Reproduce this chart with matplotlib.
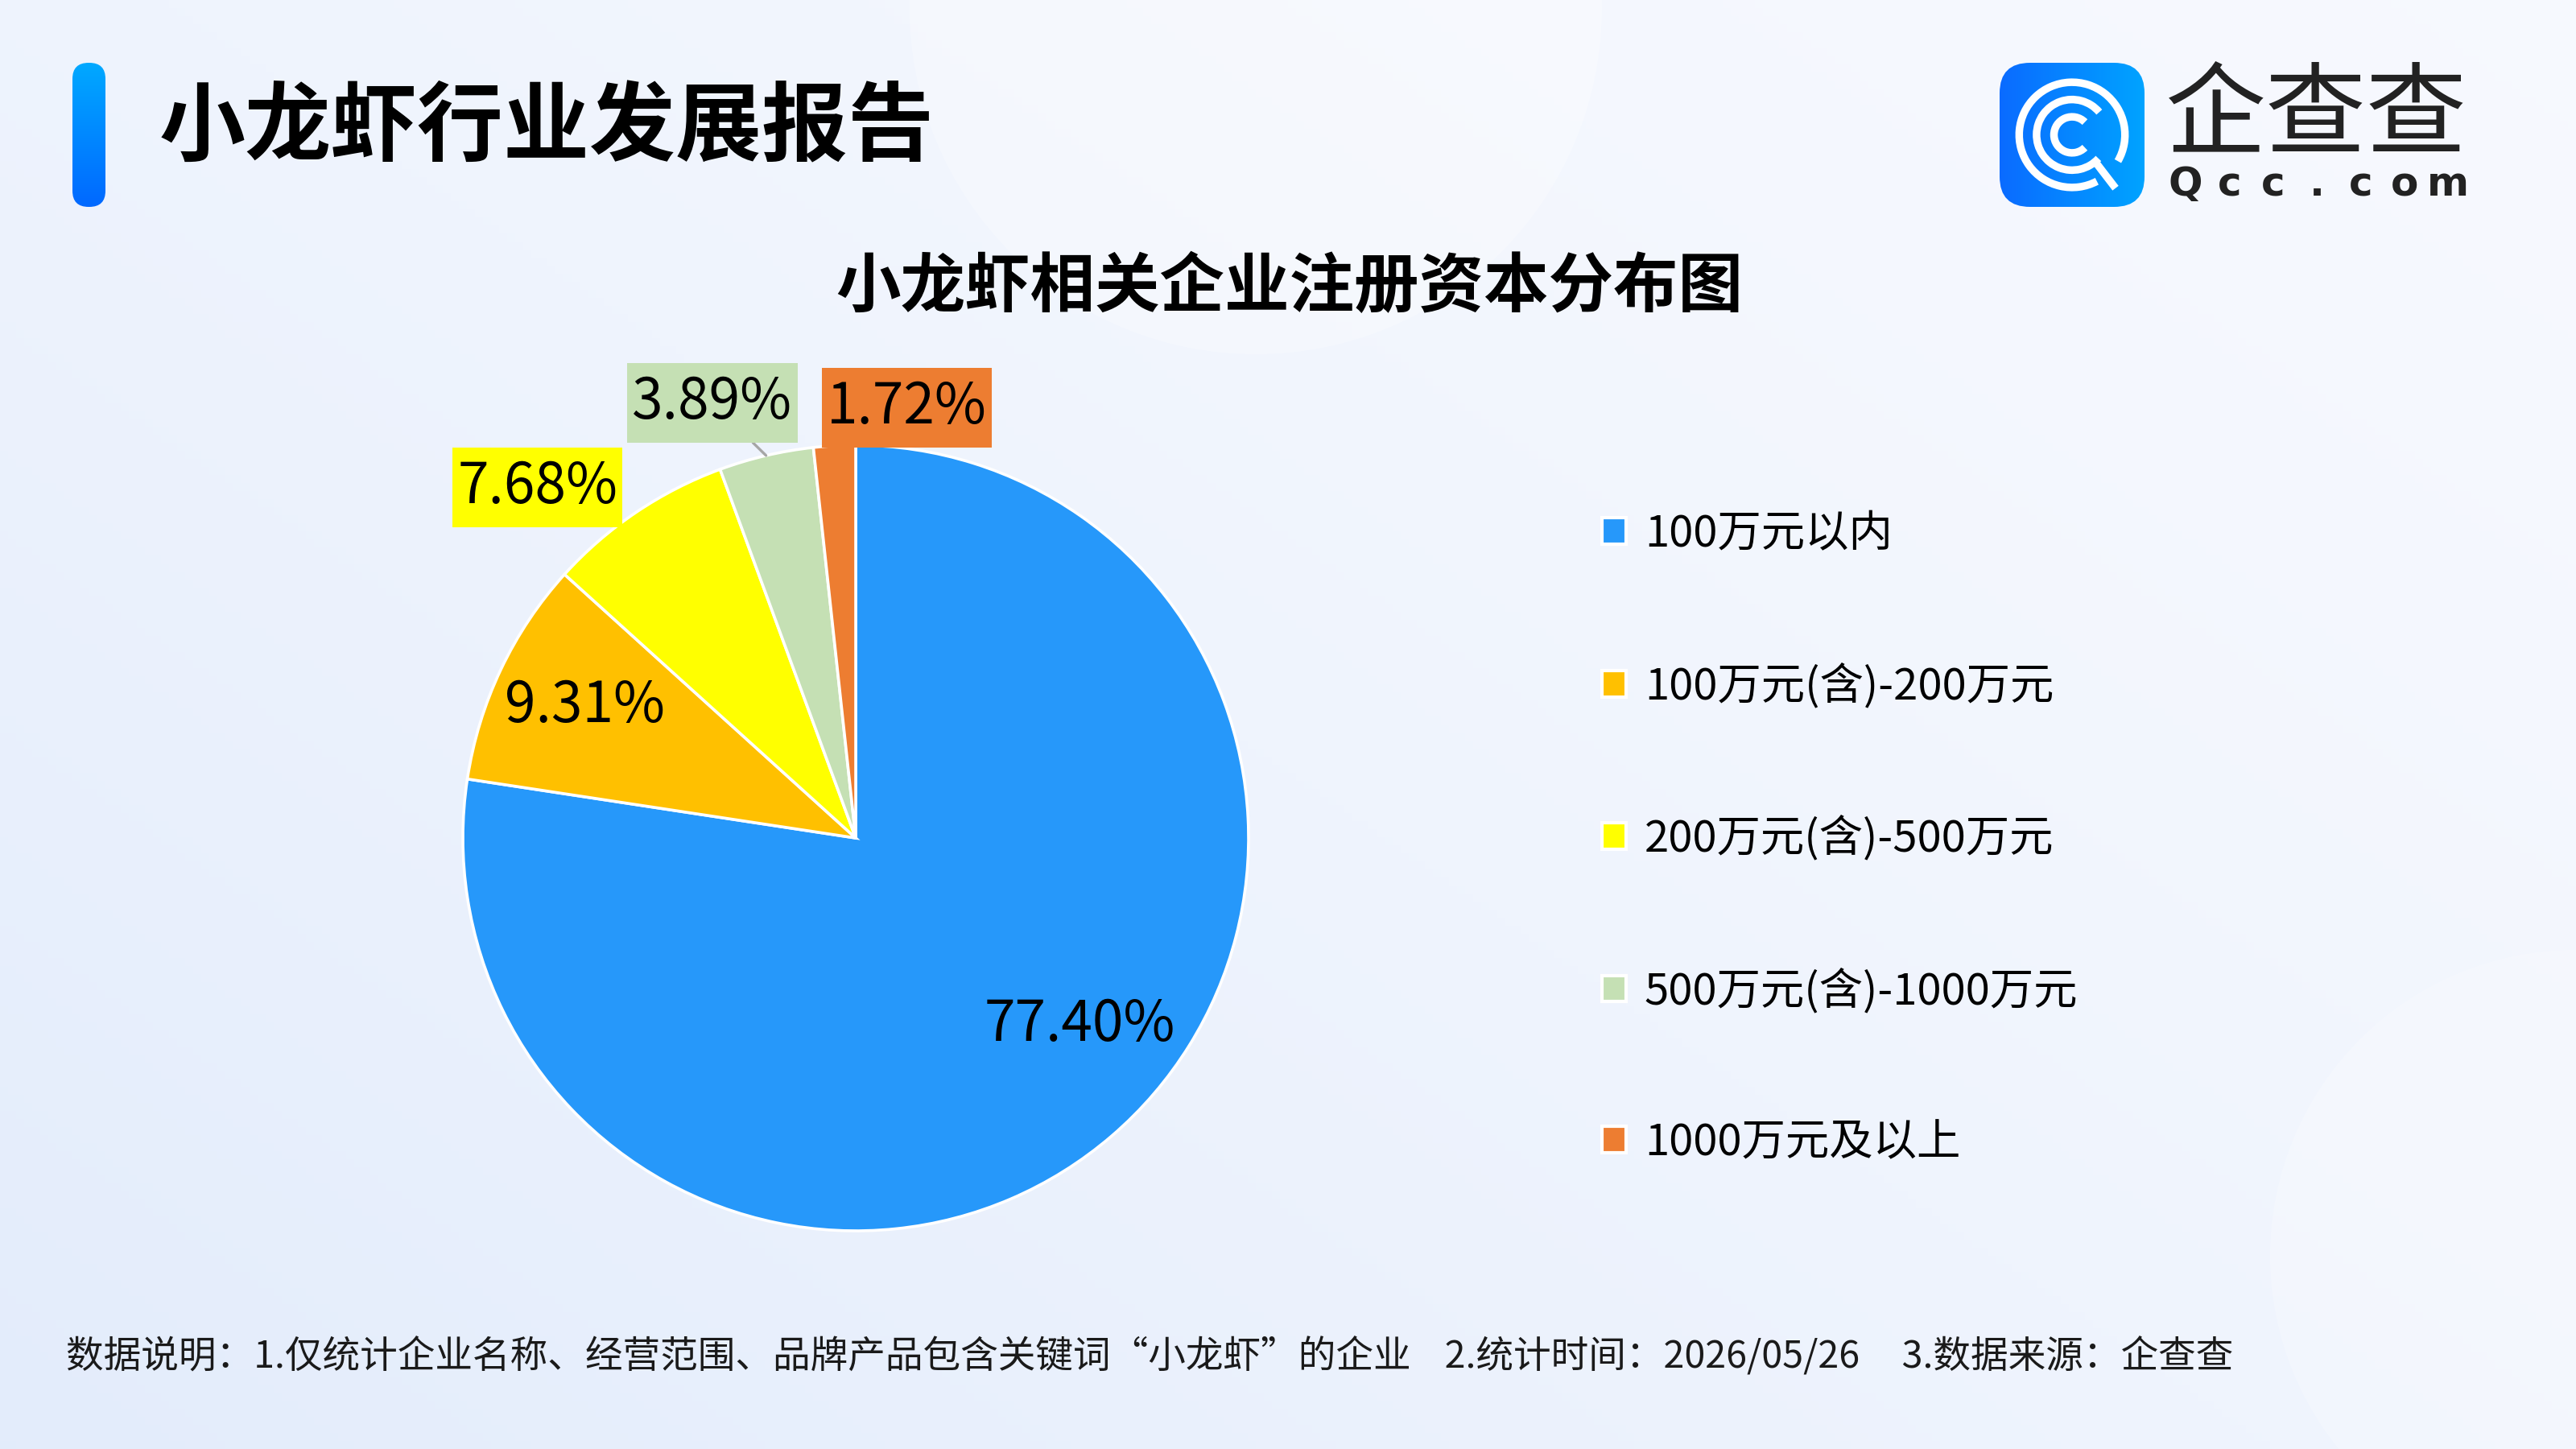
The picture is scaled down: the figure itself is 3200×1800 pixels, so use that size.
import numpy as np
import matplotlib.pyplot as plt
from matplotlib.patches import FancyBboxPatch, Patch, Arc, Circle
from matplotlib.path import Path

plt.rcParams['font.family'] = ['Noto Sans CJK SC', 'DejaVu Sans']

# Data
categories = ['100万元以内', '100万元(含)-200万元', '200万元(含)-500万元',
              '500万元(含)-1000万元', '1000万元及以上']
shares = [77.40, 9.31, 7.68, 3.89, 1.72]
colors = ['#2698fa', '#ffc000', '#ffff00', '#c5e0b4', '#ed7d31']

# label centres in pie-radius units, and which labels get a coloured box
label_pos = [(0.57, -0.475), (-0.69, 0.335), (-0.81, 0.893), (-0.365, 1.108), (0.13, 1.095)]
boxed = [False, False, True, True, True]

page_title = '小龙虾行业发展报告'
chart_title = '小龙虾相关企业注册资本分布图'
footnote = ('数据说明：1.仅统计企业名称、经营范围、品牌产品包含关键词“小龙虾”的企业    '
            '2.统计时间：2026/05/26     3.数据来源：企查查')

W, H = 3200, 1800
fig = plt.figure(figsize=(16, 9), dpi=200)

# background in pixel coordinates
bg = fig.add_axes([0, 0, 1, 1])
bg.set_xlim(0, W)
bg.set_ylim(H, 0)
bg.axis('off')

xx, yy = np.meshgrid(np.linspace(0, 1, 320), np.linspace(0, 1, 180))
w = np.clip(0.55 * (1 - xx) + 0.45 * yy, 0, 1) ** 1.4
light = np.array([0.968, 0.977, 0.998])
blue = np.array([0.890, 0.926, 0.986])
img = light[None, None, :] * (1 - w[..., None]) + blue[None, None, :] * w[..., None]
bg.imshow(img, extent=(0, W, H, 0), aspect='auto', zorder=0)
bg.add_patch(Circle((1560, 10), 430, color='white', alpha=0.28, lw=0, zorder=1))
bg.add_patch(Circle((3200, 1560), 380, color='white', alpha=0.22, lw=0, zorder=1))

# left accent bar
bar = FancyBboxPatch((90, 78), 41, 179, boxstyle='round,pad=0,rounding_size=20',
                     fc='none', ec='none', zorder=2)
bg.add_patch(bar)
grad_v = np.linspace(0, 1, 100)[:, None]
bar_img = np.dstack([0 * grad_v, 0.66 - 0.25 * grad_v, 1 + 0 * grad_v])
im = bg.imshow(bar_img, extent=(90, 131, 257, 78), aspect='auto', zorder=2)
im.set_clip_path(bar)

bg.text(198, 160, page_title, fontsize=38.5, fontweight='bold', color='black',
        ha='left', va='center', zorder=3)
bg.text(1602, 357, chart_title, fontsize=29, fontweight='bold', color='black',
        ha='center', va='center', zorder=3)
bg.text(82, 1686, footnote, fontsize=16.8, color='#1a1a1a', ha='left', va='center', zorder=3)

# logo
lg = fig.add_axes([2484 / W, 1 - 257 / H, 180 / W, 179 / H])
lg.set_xlim(-1, 1)
lg.set_ylim(-1, 1)
lg.axis('off')
box = FancyBboxPatch((-1, -1), 2, 2, boxstyle='round,pad=0,rounding_size=0.42',
                     fc='none', ec='none')
lg.add_patch(box)
grad_h = np.linspace(0, 1, 100)[None, :]
logo_img = np.dstack([0.04 * (1 - grad_h), 0.42 + 0.22 * grad_h, 1 + 0 * grad_h])
im2 = lg.imshow(logo_img, extent=(-1, 1, -1, 1), aspect='auto')
im2.set_clip_path(box)
lg.add_patch(Arc((0, 0), 1.46, 1.46, theta1=-30, theta2=298, color='white', lw=3.4))
lg.add_patch(Arc((0, 0), 0.98, 0.98, theta1=40, theta2=318, color='white', lw=3.4))
lg.add_patch(Arc((0, 0), 0.50, 0.50, theta1=45, theta2=315, color='white', lw=3.4))
lg.plot([0.34, 0.60], [-0.40, -0.74], color='white', lw=3.4, solid_capstyle='butt')

bg.text(2690, 146, '企查查', fontsize=45, color='#222222', ha='left', va='center', zorder=3)
for i, ch in enumerate('Qcc.com'):
    bg.text(2715 + i * (3041 - 2715) / 6, 229, ch, fontsize=18, fontweight='bold',
            color='#222222', ha='center', va='center', family='DejaVu Sans', zorder=3)


def label_box(x0, y0, width, height, mutation_size, ph=0.09, pv=0.2):
    # square box with separate horizontal / vertical padding
    dx, dy = ph * mutation_size, pv * mutation_size
    x0, y0 = x0 - dx, y0 - dy
    x1, y1 = x0 + width + 2 * dx, y0 + height + 2 * dy
    return Path([(x0, y0), (x1, y0), (x1, y1), (x0, y1), (x0, y0)], closed=True)


# pie
R = 488
cx, cy = 1063, 1041
lim = 1.3
side = 2 * lim * R
ax = fig.add_axes([(cx - side / 2) / W, (H - cy - side / 2) / H, side / W, side / H])
wedges, _ = ax.pie(shares, colors=colors, startangle=90, counterclock=False, radius=1,
                   wedgeprops=dict(edgecolor='white', linewidth=1.3))
ax.set_xlim(-lim, lim)
ax.set_ylim(-lim, lim)

for i, (v, pos) in enumerate(zip(shares, label_pos)):
    mid = np.deg2rad((wedges[i].theta1 + wedges[i].theta2) / 2)
    bbox = dict(boxstyle=label_box, fc=colors[i], ec='none') if boxed[i] else None
    arrow = None
    if i == 3:
        arrow = dict(arrowstyle='-', color='#a6a6a6', lw=1.2, shrinkA=0, shrinkB=0)
    ax.annotate(f'{v:.2f}%', xy=(np.cos(mid), np.sin(mid)), xytext=pos,
                ha='center', va='center', fontsize=25, color='black',
                bbox=bbox, arrowprops=arrow)

handles = [Patch(fc=c, ec='white', lw=1.5) for c in colors]
fig.legend(handles, categories, loc='upper left', bbox_to_anchor=(1990 / W, 1 - 636 / H),
           frameon=False, fontsize=19.6, labelspacing=2.44, handlelength=0.55,
           handleheight=0.55, handletextpad=0.42, borderpad=0, borderaxespad=0)

fig.savefig('out.png', dpi=200)
